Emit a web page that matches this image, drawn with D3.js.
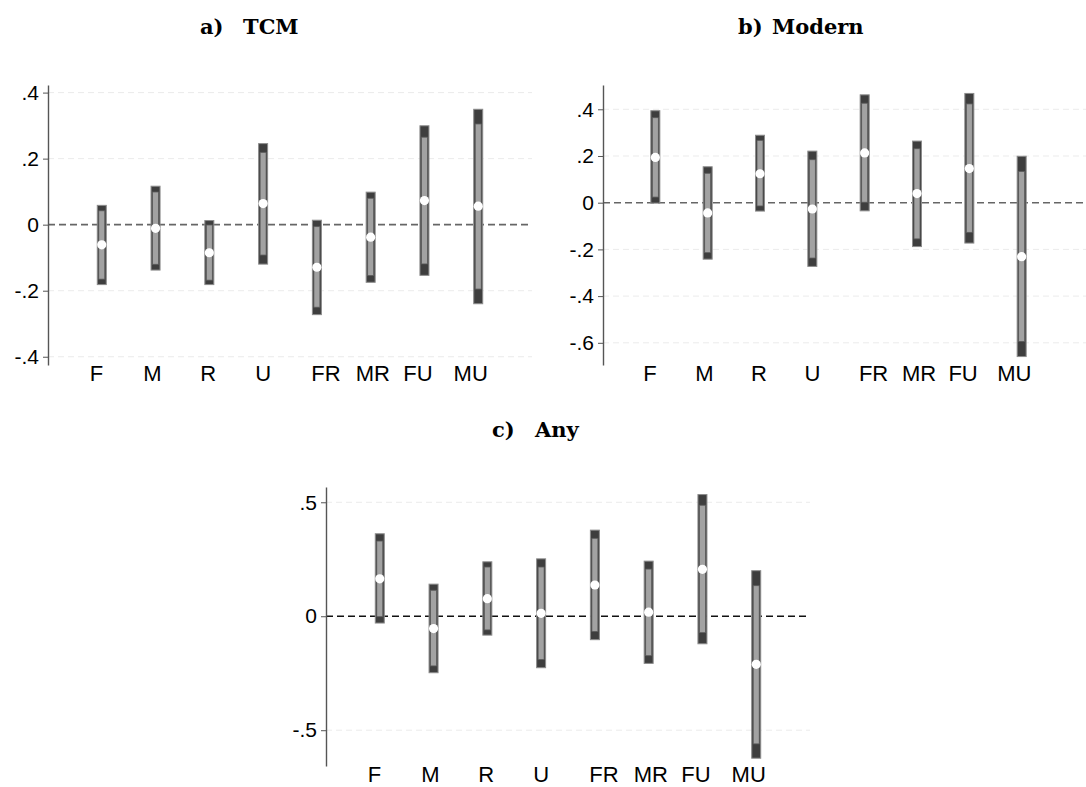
<!DOCTYPE html>
<html>
<head>
<meta charset="utf-8">
<script src="https://cdn.jsdelivr.net/npm/d3@7"></script>
<style>
  body { margin: 0; background: #fff; }
  svg { display: block; }
</style>
</head>
<body>
<svg id="chart" width="1086" height="787"></svg>
<script>
// categories and where their tick labels sit (in category units)
var categories = ["F", "M", "R", "U", "FR", "MR", "FU", "MU"];
var tickPositions = [0.9, 1.94, 2.98, 4.0, 5.17, 6.04, 6.88, 7.86];

// a) TCM
var tcmEst  = [-0.061, -0.011, -0.085, 0.064, -0.129, -0.038, 0.073, 0.056];
var tcmLo95 = [-0.183, -0.139, -0.183, -0.121, -0.274, -0.176, -0.155, -0.241];
var tcmHi95 = [0.060, 0.118, 0.014, 0.247, 0.015, 0.100, 0.301, 0.351];
var tcmLo90 = [-0.165, -0.120, -0.168, -0.092, -0.250, -0.154, -0.119, -0.195];
var tcmHi90 = [0.042, 0.099, -0.001, 0.219, -0.006, 0.080, 0.265, 0.305];

// b) Modern
var modEst  = [0.194, -0.044, 0.124, -0.027, 0.213, 0.039, 0.146, -0.231];
var modLo95 = [-0.004, -0.244, -0.038, -0.275, -0.037, -0.190, -0.175, -0.661];
var modHi95 = [0.396, 0.156, 0.291, 0.223, 0.464, 0.266, 0.470, 0.201];
var modLo90 = [0.024, -0.214, -0.014, -0.237, 0.002, -0.155, -0.127, -0.594];
var modHi90 = [0.364, 0.126, 0.267, 0.184, 0.426, 0.231, 0.423, 0.134];

// c) Any
var anyEst  = [0.164, -0.054, 0.077, 0.013, 0.137, 0.018, 0.206, -0.211];
var anyLo95 = [-0.032, -0.250, -0.085, -0.228, -0.105, -0.209, -0.123, -0.625];
var anyHi95 = [0.364, 0.143, 0.241, 0.254, 0.380, 0.244, 0.536, 0.202];
var anyLo90 = [-0.002, -0.218, -0.060, -0.190, -0.067, -0.173, -0.072, -0.560];
var anyHi90 = [0.330, 0.114, 0.216, 0.216, 0.342, 0.207, 0.487, 0.134];

var tcmTicks = [-0.4, -0.2, 0, 0.2, 0.4];
var modTicks = [-0.6, -0.4, -0.2, 0, 0.2, 0.4];
var anyTicks = [-0.5, 0, 0.5];

var svg = d3.select("#chart");

// stata style labels: .4, -.2, 0
function fmt(d){
  if (d === 0) return "0";
  var s = Math.abs(d).toFixed(1).replace(/^0/, "");
  return (d < 0 ? "-" : "") + s;
}

function rows(est, lo95, hi95, lo90, hi90){
  return categories.map(function(c, i){
    return { cat: c, i: i + 1, est: est[i], lo95: lo95[i], hi95: hi95[i], lo90: lo90[i], hi90: hi90[i] };
  });
}

function panel(opts){
  var x = d3.scaleLinear().domain([0, 9]).range(opts.xr);
  var y = d3.scaleLinear().domain(opts.yd).range(opts.yr);
  var g = svg.append("g");
  var gridEnd = opts.gridEnd || opts.xr[1];

  // title, letter and name placed separately
  var t = svg.append("text")
    .attr("y", opts.ty)
    .attr("font-family", "'DejaVu Serif', 'Liberation Serif', serif")
    .attr("font-weight", "bold")
    .attr("font-size", 21)
    .attr("fill", "#000");
  t.append("tspan").attr("x", opts.tx[0]).text(opts.title[0]);
  t.append("tspan").attr("x", opts.tx[1]).text(opts.title[1]);

  // faint grid
  g.selectAll(".grid").data(opts.ticks.filter(function(t){ return t !== 0; }))
    .enter().append("line")
    .attr("x1", opts.xr[0]).attr("x2", gridEnd)
    .attr("y1", function(d){ return y(d); }).attr("y2", function(d){ return y(d); })
    .attr("stroke", "#ebebeb").attr("stroke-width", 1)
    .attr("stroke-dasharray", "6,4");

  // zero line
  g.append("line")
    .attr("x1", opts.xr[0]).attr("x2", gridEnd)
    .attr("y1", y(0)).attr("y2", y(0))
    .attr("stroke", opts.zeroColor).attr("stroke-width", 1.6)
    .attr("stroke-dasharray", "7,4");

  // y axis
  var ax = g.append("g")
    .attr("transform", "translate(" + opts.xr[0] + ",0)")
    .call(d3.axisLeft(y).tickValues(opts.ticks).tickFormat(fmt).tickSize(5).tickSizeOuter(0).tickPadding(4));
  ax.attr("font-family", "'Liberation Sans', Arial, sans-serif").attr("font-size", 21);
  ax.select(".domain").attr("stroke", "#555").attr("stroke-width", 1.4);
  ax.selectAll(".tick line").attr("stroke", "#555");
  ax.selectAll(".tick text").attr("fill", "#000");

  // x labels
  g.selectAll(".xl").data(categories).enter().append("text")
    .attr("x", function(d, i){ return x(tickPositions[i]); })
    .attr("y", opts.yr[0] + 16)
    .attr("text-anchor", "middle")
    .attr("font-family", "'Liberation Sans', Arial, sans-serif")
    .attr("font-size", 22)
    .attr("fill", "#000")
    .text(function(d){ return d; });

  var data = opts.data;
  // 95% bars
  g.selectAll(".b95").data(data).enter().append("rect")
    .attr("x", function(d){ return x(d.i) - 4.5; })
    .attr("width", 9)
    .attr("y", function(d){ return y(d.hi95) + 0.5; })
    .attr("height", function(d){ return y(d.lo95) - y(d.hi95) - 1; })
    .attr("fill", "#3e3e3e").attr("stroke", "#8c8c8c").attr("stroke-width", 1);
  // 90% bars
  g.selectAll(".b90").data(data).enter().append("rect")
    .attr("x", function(d){ return x(d.i) - 3; })
    .attr("width", 6)
    .attr("y", function(d){ return y(d.hi90); })
    .attr("height", function(d){ return y(d.lo90) - y(d.hi90); })
    .attr("fill", "#a2a2a2").attr("stroke", "#5a5a5a").attr("stroke-width", 0.8);
  // point estimates
  g.selectAll(".pt").data(data).enter().append("circle")
    .attr("cx", function(d){ return x(d.i); })
    .attr("cy", function(d){ return y(d.est); })
    .attr("r", 4.6)
    .attr("fill", "#fff");
}

panel({
  title: ["a)", "TCM"], tx: [200, 243], ty: 34,
  xr: [48, 532], yd: [-0.425, 0.423], yr: [365, 85],
  ticks: tcmTicks, zeroColor: "#666",
  data: rows(tcmEst, tcmLo95, tcmHi95, tcmLo90, tcmHi90)
});

panel({
  title: ["b)", "Modern"], tx: [738, 772], ty: 34,
  xr: [603, 1074], gridEnd: 1086, yd: [-0.695, 0.504], yr: [365, 85],
  ticks: modTicks, zeroColor: "#666",
  data: rows(modEst, modLo95, modHi95, modLo90, modHi90)
});

panel({
  title: ["c)", "Any"], tx: [492, 535], ty: 437,
  xr: [326, 810], yd: [-0.657, 0.567], yr: [766, 487],
  ticks: anyTicks, zeroColor: "#111",
  data: rows(anyEst, anyLo95, anyHi95, anyLo90, anyHi90)
});
</script>
</body>
</html>
